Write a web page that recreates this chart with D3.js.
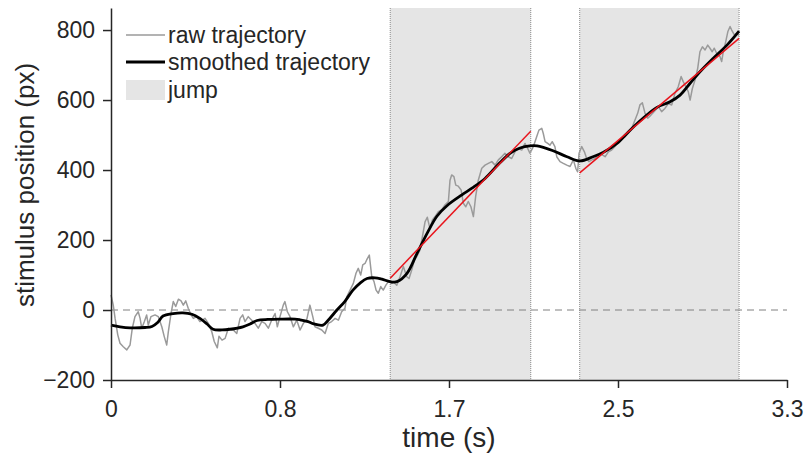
<!DOCTYPE html>
<html>
<head>
<meta charset="utf-8">
<script src="https://cdn.jsdelivr.net/npm/d3@7"></script>
<style>
  body { margin: 0; background: #fff; }
  text { font-family: "Liberation Sans", Arial, Helvetica, sans-serif; fill: #262626; }
</style>
</head>
<body>
<svg id="chart" width="807" height="456"></svg>
<script>
// Raw stimulus trajectory (time in s, position in px)
const rawTime = [0.000,0.011,0.020,0.033,0.044,0.060,0.077,0.093,0.104,0.117,
  0.133,0.142,0.150,0.163,0.174,0.182,0.195,0.215,0.231,0.248,
  0.260,0.272,0.280,0.293,0.304,0.316,0.329,0.342,0.353,0.365,
  0.377,0.391,0.402,0.418,0.434,0.459,0.475,0.492,0.504,0.519,
  0.527,0.542,0.557,0.573,0.589,0.597,0.614,0.630,0.643,0.654,
  0.670,0.687,0.703,0.719,0.736,0.752,0.768,0.784,0.801,0.812,
  0.825,0.841,0.849,0.861,0.874,0.890,0.907,0.923,0.939,0.955,
  0.971,0.985,0.996,1.012,1.029,1.045,1.061,1.077,1.094,1.110,
  1.126,1.142,1.151,1.167,1.183,1.196,1.207,1.219,1.229,1.240,
  1.248,1.261,1.273,1.284,1.294,1.305,1.317,1.329,1.342,1.354,
  1.370,1.378,1.395,1.411,1.427,1.444,1.455,1.468,1.481,1.492,
  1.508,1.520,1.533,1.544,1.557,1.569,1.582,1.598,1.614,1.630,
  1.647,1.655,1.663,1.674,1.683,1.695,1.709,1.720,1.732,1.744,
  1.757,1.769,1.780,1.793,1.810,1.826,1.842,1.859,1.875,1.891,
  1.907,1.923,1.940,1.956,1.972,1.988,2.005,2.021,2.034,2.045,
  2.062,2.078,2.089,2.103,2.110,2.119,2.132,2.143,2.154,2.167,
  2.176,2.192,2.208,2.225,2.241,2.257,2.269,2.278,2.285,2.298,
  2.311,2.322,2.333,2.347,2.363,2.379,2.395,2.412,2.428,2.444,
  2.460,2.477,2.493,2.509,2.525,2.542,2.558,2.571,2.582,2.594,
  2.607,2.620,2.636,2.652,2.672,2.688,2.704,2.721,2.737,2.753,
  2.769,2.783,2.794,2.806,2.818,2.827,2.838,2.851,2.864,2.875,
  2.887,2.900,2.913,2.924,2.935,2.945,2.957,2.973,2.981,2.989,
  3.001,3.011,3.022,3.030,3.043,3.054,3.066];
const rawPos = [43,14,-24,-71,-95,-105,-114,-100,-52,-19,
  -5,-24,-52,-33,-14,-43,-19,-14,-19,-48,
  -76,-100,-62,-10,24,10,31,26,14,26,
  5,-14,-24,-19,-33,-24,-38,-62,-90,-108,
  -75,-86,-81,-52,-57,-57,-67,-24,-14,-33,
  -19,-29,-38,-52,-33,-38,-52,-29,-10,-48,
  -19,14,24,-5,-19,-48,-29,-57,-38,-29,
  14,-19,-48,-52,-57,-67,-38,-33,-24,-29,
  -5,5,38,57,76,105,119,100,129,133,
  143,157,95,81,57,48,67,57,71,81,
  76,81,71,95,124,95,90,114,143,152,
  171,209,252,265,233,257,267,281,286,300,
  310,371,386,381,357,354,343,305,295,310,
  295,267,324,371,405,414,419,424,414,429,
  438,448,438,433,452,462,457,476,462,448,
  467,495,514,519,505,481,476,471,481,467,
  438,424,419,414,410,429,405,395,448,467,
  452,433,424,429,433,443,445,438,452,457,
  467,481,490,495,505,519,543,562,586,592,
  562,548,557,567,581,567,576,590,586,619,
  638,667,652,638,624,600,633,657,690,738,
  752,743,757,748,738,748,733,724,710,738,
  767,795,810,800,786,790,785];

// Smoothed trajectory
const smoothTime = [0,0.044,0.093,0.166,0.200,0.229,0.254,0.303,0.351,0.395,
  0.434,0.469,0.498,0.542,0.581,0.644,0.679,0.713,0.766,0.825,
  0.898,0.923,0.962,0.986,1.035,1.059,1.103,1.142,1.181,1.216,
  1.250,1.289,1.323,1.362,1.396,1.445,1.494,1.543,1.591,1.640,
  1.713,1.762,1.826,1.889,1.953,1.997,2.045,2.080,2.158,2.226,
  2.290,2.353,2.402,2.470,2.534,2.597,2.665,2.729,2.778,2.827,
  2.875,2.939,3.007,3.066];
const smoothPos = [-43,-48,-51,-50,-47,-35,-17,-10,-8,-12,
  -24,-40,-55,-57,-55,-48,-40,-30,-27,-26,
  -26,-28,-33,-39,-43,-30,0,25,57,77,
  90,92,88,81,81,105,162,219,268,298,
  329,348,376,415,450,463,469,469,455,438,
  426,438,450,476,514,548,579,595,614,648,
  681,719,757,797];

// Jump epochs and their linear fits
const jumpStart = [1.363, 2.288];
const jumpEnd = [2.049, 3.066];
const fitStartPos = [91, 392];
const fitEndPos = [511, 776];

// Axis ticks
const xTickValues = [0, 0.825, 1.65, 2.475, 3.3];
const xTickLabels = ["0", "0.8", "1.7", "2.5", "3.3"];
const yTickValues = [-200, 0, 200, 400, 600, 800];

const legendLabels = ["raw trajectory", "smoothed trajectory", "jump"];

const svg = d3.select("#chart");
const x = d3.scaleLinear().domain([0, 3.3]).range([111, 787]);
const y = d3.scaleLinear().domain([-200, 863]).range([380, 8]);

const rawData = rawTime.map((t, i) => [t, rawPos[i]]);
const smoothData = smoothTime.map((t, i) => [t, smoothPos[i]]);
const jumps = jumpStart.map((s, i) => ({ s, e: jumpEnd[i], p0: fitStartPos[i], p1: fitEndPos[i] }));

// Shaded jump epochs
const jg = svg.append("g");
jg.selectAll("rect").data(jumps).join("rect")
  .attr("x", d => x(d.s)).attr("y", y(863))
  .attr("width", d => x(d.e) - x(d.s)).attr("height", y(-200) - y(863))
  .attr("fill", "#e5e5e5");
jumps.forEach(d => {
  [d.s, d.e].forEach(t => {
    jg.append("line")
      .attr("x1", x(t)).attr("x2", x(t)).attr("y1", y(863)).attr("y2", y(-200))
      .attr("stroke", "#8a8a8a").attr("stroke-width", 1).attr("stroke-dasharray", "1,1");
  });
});

// Zero reference
svg.append("line")
  .attr("x1", x(0)).attr("x2", x(3.3)).attr("y1", y(0)).attr("y2", y(0))
  .attr("stroke", "#808080").attr("stroke-width", 1).attr("stroke-dasharray", "7,5");

const line = d3.line().x(d => x(d[0])).y(d => y(d[1]));

svg.append("path").datum(rawData)
  .attr("d", line)
  .attr("fill", "none").attr("stroke", "#9a9a9a").attr("stroke-width", 1.5)
  .attr("stroke-linejoin", "round");

svg.append("path").datum(smoothData)
  .attr("d", line.curve(d3.curveCatmullRom.alpha(0.5)))
  .attr("fill", "none").attr("stroke", "#000").attr("stroke-width", 2.8)
  .attr("stroke-linejoin", "round");

// Linear fits within each jump
svg.selectAll("line.fit").data(jumps).join("line").attr("class", "fit")
  .attr("x1", d => x(d.s)).attr("y1", d => y(d.p0))
  .attr("x2", d => x(d.e)).attr("y2", d => y(d.p1))
  .attr("stroke", "#e8141c").attr("stroke-width", 1.5);

// Axes
const xAxis = d3.axisBottom(x).tickValues(xTickValues)
  .tickFormat((d, i) => xTickLabels[i]).tickSize(8).tickSizeOuter(0).tickPadding(13);
const yAxis = d3.axisLeft(y).tickValues(yTickValues)
  .tickFormat(d3.format("d")).tickSize(8).tickSizeOuter(0).tickPadding(8);

const gx = svg.append("g").attr("transform", `translate(0,${y(-200)})`).call(xAxis);
const gy = svg.append("g").attr("transform", `translate(${x(0)},0)`).call(yAxis);
[gx, gy].forEach(g => {
  g.select(".domain").attr("stroke", "#262626").attr("stroke-width", 1.5);
  g.selectAll(".tick line").attr("stroke", "#262626").attr("stroke-width", 1.5);
  g.selectAll(".tick text").attr("font-size", 23).attr("fill", "#262626")
    .style("font-family", '"Liberation Sans", Arial, sans-serif');
});

svg.append("text").attr("x", (x(0) + x(3.3)) / 2).attr("y", 447)
  .attr("text-anchor", "middle").attr("font-size", 28).text("time (s)");
svg.append("text").attr("transform", `translate(34,185) rotate(-90)`)
  .attr("text-anchor", "middle").attr("font-size", 26).text("stimulus position (px)");

// Legend
const lg = svg.append("g");
const rowY = [35, 62, 90];
lg.append("line").attr("x1", 126).attr("x2", 165).attr("y1", rowY[0]).attr("y2", rowY[0])
  .attr("stroke", "#9a9a9a").attr("stroke-width", 1.5);
lg.append("line").attr("x1", 126).attr("x2", 165).attr("y1", rowY[1]).attr("y2", rowY[1])
  .attr("stroke", "#000").attr("stroke-width", 2.8);
lg.append("rect").attr("x", 126).attr("y", rowY[2] - 10).attr("width", 39).attr("height", 20)
  .attr("fill", "#e5e5e5");
lg.selectAll("text").data(legendLabels).join("text")
  .attr("x", 168).attr("y", (d, i) => rowY[i]).attr("dy", "0.35em")
  .attr("font-size", 23).text(d => d);
</script>
</body>
</html>
